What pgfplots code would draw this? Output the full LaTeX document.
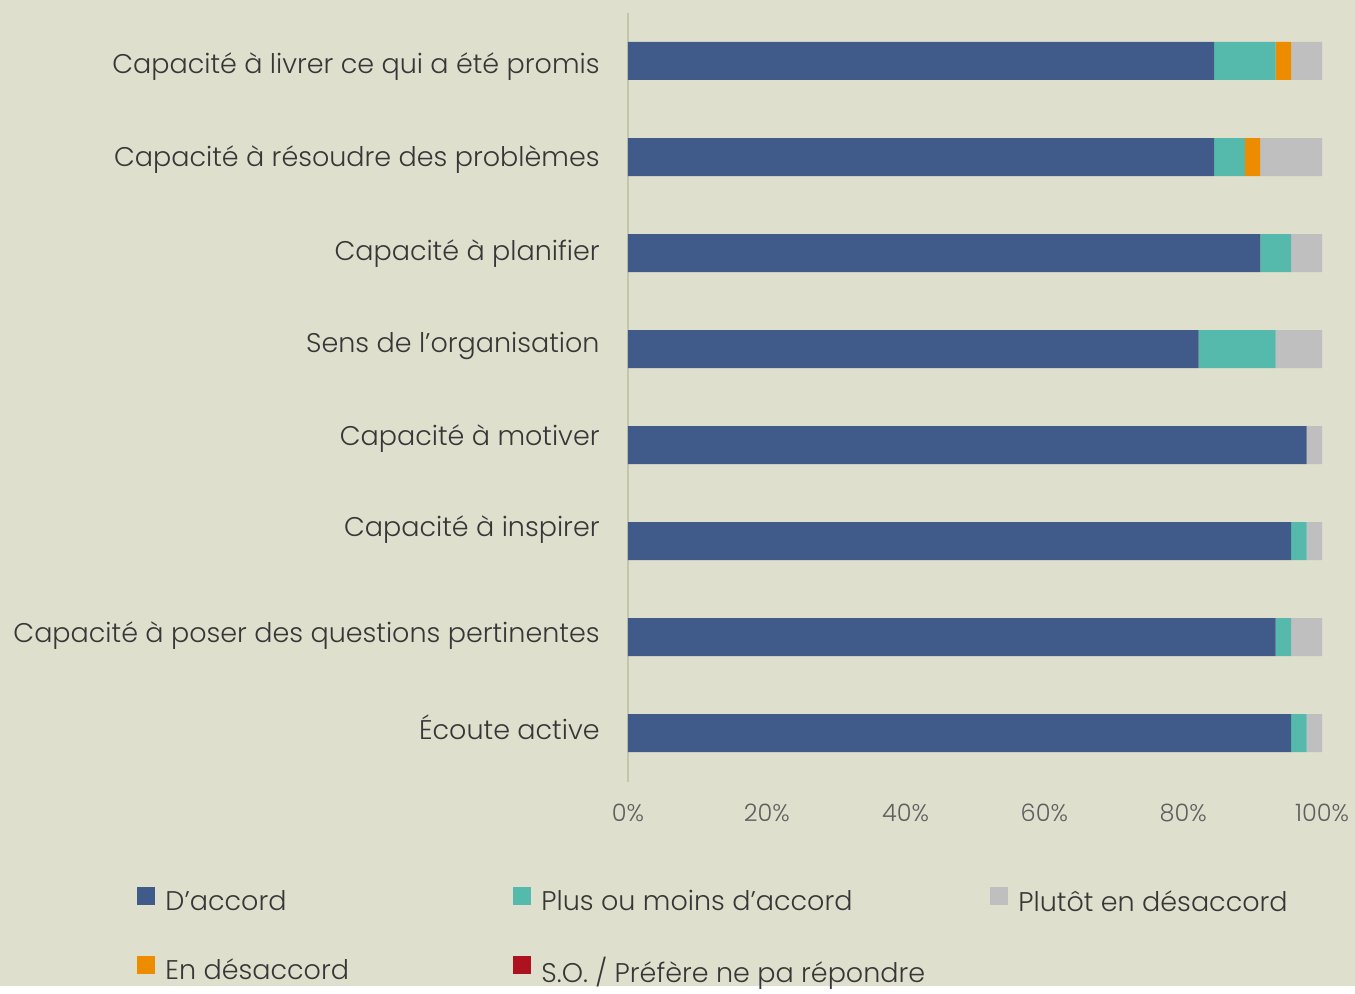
\documentclass[border=0pt]{standalone}
\usepackage{pgfplots}
\usepackage{pgfplotstable}
\pgfplotsset{compat=1.18}
\usepackage{fontspec}
\setmainfont{Poppins}[UprightFont={* Light}]
\definecolor{bg}{RGB}{223,223,206}
\definecolor{cNavy}{RGB}{64,91,138}
\definecolor{cTeal}{RGB}{85,186,171}
\definecolor{cGray}{RGB}{191,191,191}
\definecolor{cOrange}{RGB}{238,140,0}
\definecolor{cRed}{RGB}{174,18,32}
\definecolor{txt}{RGB}{55,55,55}
\definecolor{ticktxt}{RGB}{95,95,95}
\definecolor{axl}{RGB}{196,198,168}
\pgfplotstableread{
y accord plusmoins desaccord plutot so
0 95.56 2.22 0 2.22 0
1 93.33 2.22 0 4.45 0
2 95.56 2.22 0 2.22 0
3 97.78 0 0 2.22 0
4 82.22 11.11 0 6.67 0
5 91.11 4.44 0 4.45 0
6 84.44 4.44 2.22 8.90 0
7 84.44 8.89 2.22 4.45 0
}\data
\begin{document}
\begin{tikzpicture}[x=1pt,y=1pt]
\fill[bg] (0,0) rectangle (677.5,493);
\begin{axis}[
  at={(314pt,102pt)}, anchor=south west, scale only axis,
  width=347pt, height=384.5pt,
  xbar stacked, bar width=19pt,
  xmin=0, xmax=100, ymin=-0.51, ymax=7.5,
  ytick={-0.066,0.941,2.045,3.0,3.961,4.927,5.899,6.872},
  yticklabels={Écoute active, Capacité à poser des questions pertinentes, Capacité à inspirer, Capacité à motiver, Sens de l’organisation, Capacité à planifier, Capacité à résoudre des problèmes, Capacité à livrer ce qui a été promis},
  xtick={0,20,...,100},
  xticklabel={\pgfmathprintnumber{\tick}\%},
  /pgf/number format/assume math mode=true,
  axis lines=left,
  x axis line style={draw=none},
  y axis line style={draw=axl, line width=0.7pt, -},
  major tick length=0pt,
  yticklabel style={font=\fontsize{13.5}{16}\selectfont, text=txt, inner sep=0pt, anchor=base east, xshift=-14pt},
  xticklabel style={font=\fontsize{12}{14}\selectfont, text=ticktxt, inner sep=0pt, anchor=base, yshift=-19.85pt},
  legend style={at={(-0.716,-0.130)}, anchor=north west, draw=none, fill=none,
    font=\fontsize{13.5}{16}\selectfont, text=txt,
    row sep=17.25pt,
    /tikz/every odd column/.append style={column sep=3pt}},
  legend columns=3,
  legend cell align=left,
  legend image code/.code={\fill[#1, draw=none] (0pt,-1.5pt) rectangle (9pt,7.5pt);},
]
\addplot[fill=cNavy, draw=none, forget plot] table[x=accord, y=y] {\data};
\addplot[fill=cTeal, draw=none, forget plot] table[x=plusmoins, y=y] {\data};
\addplot[fill=cOrange, draw=none, forget plot] table[x=desaccord, y=y] {\data};
\addplot[fill=cGray, draw=none, forget plot] table[x=plutot, y=y] {\data};
\addplot[fill=cRed, draw=none, forget plot] table[x=so, y=y] {\data};
\addlegendimage{fill=cNavy, draw=none}
\addlegendentry{\makebox[172pt][l]{D’accord}}
\addlegendimage{fill=cTeal, draw=none}
\addlegendentry{\makebox[222.5pt][l]{Plus ou moins d’accord}}
\addlegendimage{fill=cGray, draw=none}
\addlegendentry{Plutôt en désaccord}
\addlegendimage{fill=cOrange, draw=none}
\addlegendentry{\makebox[172pt][l]{En désaccord}}
\addlegendimage{fill=cRed, draw=none}
\addlegendentry{\makebox[222.5pt][l]{S.O. / Préfère ne pa répondre}}
\end{axis}
\end{tikzpicture}
\end{document}
